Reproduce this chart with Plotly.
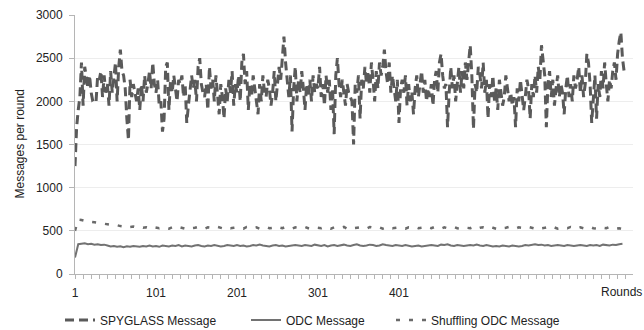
import plotly.graph_objects as go

# ---------------- data ----------------
x_tick_labels = ["1", "101", "201", "301", "401"]
x_tick_rounds = [1, 101, 201, 301, 401]

# SPYGLASS messages, sampled every 2 rounds (rounds 1, 3, ..., 679)
spyglass_rounds = list(range(1, 681, 2))
spyglass = [
    1250, 1700, 1900, 2050, 2450, 1950, 2400, 2250, 2150, 2300,
    2100, 2000, 1980, 2000, 2300, 2250, 2350, 2050, 2300, 2100,
    2200, 1950, 2350, 2100, 2300, 2450, 2000, 2400, 2600, 2350,
    2300, 2150, 1800, 1550, 2250, 2050, 2200, 2100, 2000, 2150,
    1900, 2200, 2000, 2300, 2100, 2200, 2350, 2150, 2450, 2200,
    2100, 2250, 1950, 2000, 1650, 1800, 2400, 2450, 1900, 2250,
    2100, 2300, 2150, 2000, 2250, 2200, 2300, 2050, 2200, 1750,
    1950, 2100, 2300, 2150, 2250, 2000, 2400, 2500, 2200, 2100,
    2050, 2200, 1900, 2400, 2150, 2250, 2000, 2300, 2100, 1850,
    2200, 2050, 1800, 2150, 2000, 2250, 2100, 2350, 1950, 2200,
    2100, 2300, 2000, 2450, 2550, 2200, 2350, 1900, 2200, 2050,
    2300, 2150, 2050, 1850, 2200, 2000, 2300, 2100, 2050, 2250,
    2150, 1950, 2100, 2350, 2000, 2200, 2400, 2250, 2500, 2750,
    2450, 2200, 2050, 2300, 1650, 2150, 2400, 2000, 2250, 2100,
    2350, 2150, 1900, 2200, 2050, 2250, 2000, 2300, 2100, 2200,
    2150, 2400, 2050, 2200, 1950, 2300, 2100, 2250, 1900, 2150,
    1620, 2300, 2500, 2200, 2050, 2250, 2100, 1950, 2200, 2100,
    2050, 2000, 1500, 2200, 2100, 2300, 1800, 2250, 2150, 2400,
    2200, 2350, 2100, 2450, 2250, 2000, 2350, 2150, 2450, 2300,
    2400, 2600, 2350, 2200, 2450, 2100, 2300, 2150, 2000, 2250,
    1750, 2150, 2250, 2100, 2300, 1950, 2200, 2000, 2100, 1850,
    2150, 2300, 2050, 2200, 2350, 2100, 2250, 2000, 2150, 2050,
    2200, 1950, 2250, 2350, 2100, 2450, 2550, 2300, 2150, 2200,
    1700, 2100, 2400, 2150, 2300, 2000, 2250, 2400, 2100, 2350,
    2150, 2450, 2250, 2500, 2650, 2300, 1680, 2200, 2100, 2400,
    2300, 2150, 2450, 2100, 2250, 1800, 2200, 2050, 2300, 2000,
    2150, 1900, 2250, 2100, 1950, 2050, 2300, 2150, 2000, 2100,
    1950, 2050, 1700, 2150, 2000, 2250, 2100, 1900, 2050, 2250,
    2150, 1800, 2200, 2050, 2300, 2100, 2400, 2250, 2650, 2450,
    2300, 1700, 2200, 2350, 2050, 2250, 1950, 2150, 2300, 2050,
    2200, 2100, 1850, 2150, 2300, 2050, 2200, 2000, 2300, 2150,
    2250, 2400, 2100, 2300, 2050, 2200, 2550, 2450, 2200, 1750,
    2100, 2300, 1800, 2200, 2050, 2350, 2150, 2450, 2200, 2000,
    2250, 2150, 2350, 2450, 2250, 2550, 2700, 2800, 2500, 2350,
]

# ODC and Shuffling ODC messages, sampled every 4 rounds (rounds 1, 5, ..., 677)
odc_rounds = list(range(1, 681, 4))
odc = [
    190, 345, 350, 355, 345, 350, 340, 345, 335, 340,
    330, 320, 325, 315, 320, 310, 320, 315, 325, 320,
    315, 325, 320, 330, 320, 325, 315, 330, 325, 320,
    330, 325, 335, 320, 330, 325, 320, 330, 335, 325,
    320, 330, 325, 335, 330, 320, 325, 335, 330, 325,
    335, 325, 330, 320, 325, 335, 330, 340, 330, 325,
    320, 330, 335, 325, 330, 320, 325, 330, 335, 330,
    325, 335, 330, 325, 340, 330, 325, 335, 320, 330,
    335, 325, 330, 340, 330, 325, 335, 345, 330, 325,
    330, 340, 335, 325, 330, 345, 335, 330, 325, 335,
    330, 325, 335, 330, 320, 325, 330, 320, 325, 330,
    335, 330, 325, 340, 335, 345, 330, 325, 335, 330,
    325, 330, 335, 330, 340, 330, 325, 335, 330, 320,
    325, 320, 330, 325, 320, 330, 325, 320, 325, 335,
    330, 340, 345, 335, 340, 330, 335, 325, 330, 335,
    330, 325, 335, 330, 325, 330, 335, 330, 325, 335,
    330, 335, 325, 340, 335, 330, 340, 335, 345, 350,
]
shuffling = [
    500, 630, 625, 615, 620, 605, 600, 595, 585, 580,
    575, 570, 560, 565, 555, 550, 560, 545, 550, 540,
    545, 535, 540, 530, 545, 535, 530, 540, 535, 525,
    540, 530, 545, 535, 525, 540, 530, 535, 545, 530,
    525, 540, 535, 530, 545, 535, 525, 540, 530, 535,
    540, 530, 525, 545, 535, 530, 540, 525, 535, 545,
    530, 535, 525, 540, 530, 545, 535, 525, 540, 530,
    535, 545, 530, 525, 540, 535, 530, 545, 535, 525,
    540, 530, 535, 545, 525, 540, 530, 535, 540, 530,
    525, 545, 535, 530, 540, 525, 535, 545, 530, 535,
    540, 530, 525, 540, 535, 545, 530, 535, 525, 540,
    530, 545, 535, 525, 540, 530, 535, 545, 530, 525,
    540, 535, 530, 545, 525, 535, 540, 530, 545, 535,
    525, 540, 530, 535, 545, 530, 525, 540, 535, 530,
    545, 535, 525, 540, 530, 535, 545, 530, 540, 525,
    535, 540, 530, 545, 535, 525, 540, 530, 535, 545,
    530, 525, 540, 535, 530, 545, 535, 525, 530, 520,
]

# ---------------- figure ----------------
FONT = "Liberation Sans, Arial, sans-serif"
W, H = 644, 330
ML, MR, MT, MB = 75, 11, 15, 56
PW = W - ML - MR
PH = H - MT - MB

fig = go.Figure()
fig.add_trace(go.Scatter(
    x=spyglass_rounds, y=spyglass, mode="lines", name="SPYGLASS Message",
    line=dict(color="#5a5a5a", width=3, dash="9px,5px"), legend="legend"))
fig.add_trace(go.Scatter(
    x=odc_rounds, y=odc, mode="lines", name="ODC Message",
    line=dict(color="#727272", width=2), legend="legend2"))
fig.add_trace(go.Scatter(
    x=odc_rounds, y=shuffling, mode="lines", name="Shuffling ODC Message",
    line=dict(color="#6a6a6a", width=2.5, dash="4px,9px"), legend="legend3"))

minor_ticks = list(range(1, 690, 10))
tick_text = [x_tick_labels[x_tick_rounds.index(v)] if v in x_tick_rounds else "" for v in minor_ticks]

fig.update_layout(
    width=W, height=H,
    margin=dict(l=ML, r=MR, t=MT, b=MB, autoexpand=False),
    paper_bgcolor="white", plot_bgcolor="white",
    font=dict(family=FONT, size=12, color="#222222"),
    showlegend=True,
    xaxis=dict(
        range=[1, 690], tickmode="array", tickvals=minor_ticks, ticktext=tick_text,
        ticks="outside", ticklen=4, tickcolor="#b5b5b5", tickwidth=1,
        showline=True, linecolor="#b5b5b5", linewidth=1,
        showgrid=False, zeroline=False, ticklabelstandoff=4,
        tickfont=dict(size=12, color="#222222"),
    ),
    yaxis=dict(
        range=[0, 3000], tickmode="array", tickvals=[0, 500, 1000, 1500, 2000, 2500, 3000],
        ticks="outside", ticklen=5, tickcolor="#b5b5b5",
        showline=True, linecolor="#b5b5b5", linewidth=1,
        showgrid=True, gridcolor="#ededed", gridwidth=1, zeroline=False,
        ticklabelstandoff=4, tickfont=dict(size=12, color="#222222"),
    ),
)

leg_common = dict(orientation="h", yanchor="middle", xanchor="left", y=-(320 - 274) / PH,
                  font=dict(size=12, color="#222222"), bgcolor="rgba(0,0,0,0)")
fig.update_layout(
    legend=dict(x=(60 - ML) / PW, **leg_common),
    legend2=dict(x=(246 - ML) / PW, **leg_common),
    legend3=dict(x=(391 - ML) / PW, **leg_common),
)

fig.add_annotation(text="Rounds", xref="paper", yref="paper",
                   x=(621 - ML) / PW, y=-(292 - 274) / PH, xanchor="center", yanchor="middle",
                   showarrow=False, font=dict(size=12, color="#222222"))
fig.add_annotation(text="Messages per round", xref="paper", yref="paper",
                   x=(19 - ML) / PW, y=0.5, xanchor="center", yanchor="middle", textangle=-90,
                   showarrow=False, font=dict(size=12, color="#222222"))

fig.write_html("out.html")
